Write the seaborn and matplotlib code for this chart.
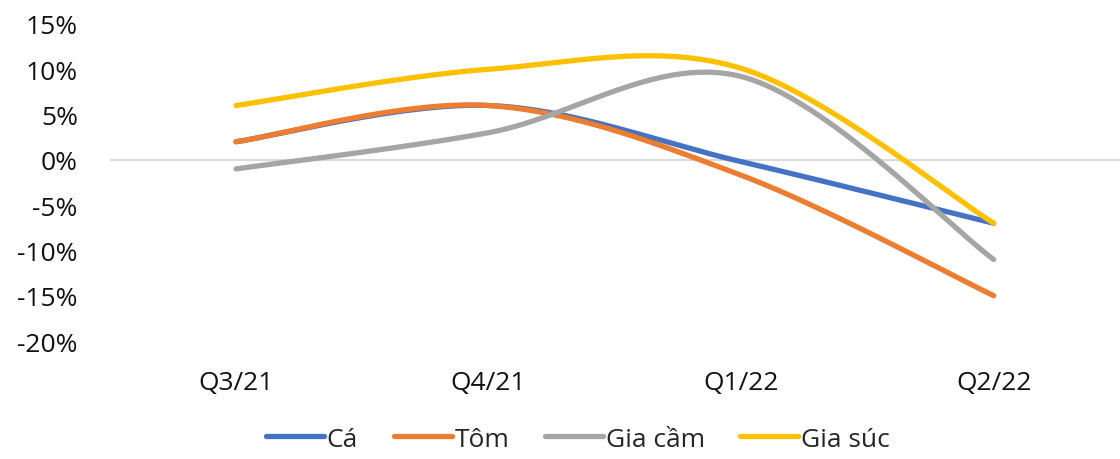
import numpy as np
import pandas as pd
import matplotlib
matplotlib.use('Agg')
import matplotlib.pyplot as plt
import seaborn as sns
from matplotlib.lines import Line2D

sns.set_theme(style='white')
plt.rcParams['font.family'] = ['Open Sans', 'DejaVu Sans']

quarters = ['Q3/21', 'Q4/21', 'Q1/22', 'Q2/22']
ca = [2, 6, -0.2, -7]
tom = [2, 6, -1.7, -15]
gia_cam = [-1, 3, 9.2, -11]
gia_suc = [6, 10, 10.1, -7]

series = {'Cá': ca, 'Tôm': tom, 'Gia cầm': gia_cam, 'Gia súc': gia_suc}
colors = {'Cá': '#4472C4', 'Tôm': '#ED7D31', 'Gia cầm': '#A5A5A5', 'Gia súc': '#FFC000'}


def smooth(ys, n=60):
    # excel-like smoothed line: bezier segments with catmull-rom control points
    pts = np.column_stack([np.arange(len(ys)), ys]).astype(float)
    ext = np.vstack([pts[0], pts, pts[-1]])
    out = []
    t = np.linspace(0, 1, n)[:, None]
    for i in range(len(pts) - 1):
        p0, p3 = ext[i + 1], ext[i + 2]
        p1 = p0 + (ext[i + 2] - ext[i]) / 6
        p2 = p3 - (ext[i + 3] - ext[i + 1]) / 6
        seg = (1 - t) ** 3 * p0 + 3 * (1 - t) ** 2 * t * p1 + 3 * (1 - t) * t ** 2 * p2 + t ** 3 * p3
        out.append(seg if i == 0 else seg[1:])
    return np.vstack(out)


frames = []
for name, vals in series.items():
    xy = smooth(vals)
    frames.append(pd.DataFrame({'x': xy[:, 0], 'y': xy[:, 1], 'name': name}))
df = pd.concat(frames, ignore_index=True)

fig = plt.figure(figsize=(11.2, 4.6), dpi=100)
ax = fig.add_axes([0.098, 0.2565, 0.902, 0.6892])

ax.axhline(0, color='#D9D9D9', lw=1.5, zorder=0)
sns.lineplot(data=df, x='x', y='y', hue='name', palette=colors, sort=False,
             estimator=None, lw=3.8, ax=ax, legend=False,
             solid_capstyle='round')

ax.set_xlim(-0.5, 3.5)
ax.set_ylim(-20, 15)
ax.set_yticks(range(-20, 16, 5))
ax.set_yticklabels([f'{v}%' for v in range(-20, 16, 5)], fontsize=19, color='#111111')
ax.set_xticks(range(len(quarters)))
ax.set_xticklabels(quarters, fontsize=19, color='#111111')
ax.tick_params(axis='x', pad=21, length=0)
ax.tick_params(axis='y', pad=23, length=0)
ax.set_xlabel('')
ax.set_ylabel('')
sns.despine(ax=ax, left=True, bottom=True)

handles = [Line2D([0], [0], color=colors[k], lw=3.8, solid_capstyle='round') for k in series]
fig.legend(handles, list(series.keys()), loc='center', bbox_to_anchor=(0.516, 0.043),
           ncol=4, frameon=False, fontsize=19, handlelength=2.2, handletextpad=0.1,
           columnspacing=1.35, borderpad=0)

fig.savefig('out.png', dpi=100)
